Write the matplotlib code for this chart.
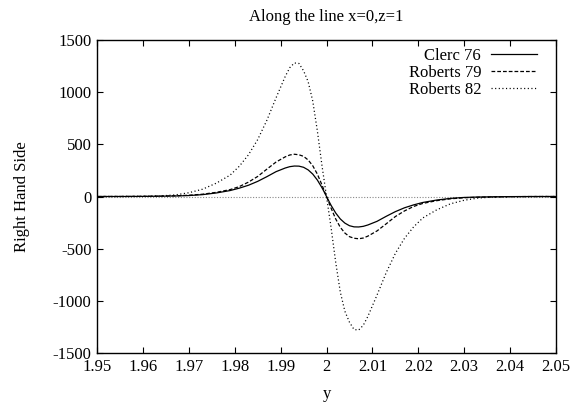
import numpy as np
import matplotlib
matplotlib.use("Agg")
import matplotlib.pyplot as plt

plt.rcParams["font.family"] = ["Liberation Serif", "DejaVu Serif"]
plt.rcParams["axes.unicode_minus"] = False

# values (left half; right half is the mirrored trough)
Y_LEFT = [1.95, 1.955, 1.96, 1.964, 1.967, 1.970, 1.973, 1.976, 1.979, 1.981,
          1.983, 1.985, 1.987, 1.989, 1.991, 1.992, 1.993, 1.994, 1.995, 1.996,
          1.997, 1.998, 1.999, 1.9995, 2.0]
CLERC_76 = [0, 0.2, 1, 3, 5, 9, 18, 34, 57, 80, 108, 145, 190, 238, 273, 286,
            292, 291, 280, 255, 215, 158, 85, 43, 0]
ROBERTS_79 = [0, 0.3, 1.5, 4, 7, 12, 22, 40, 66, 95, 138, 192, 262, 330, 380,
              398, 405, 400, 385, 350, 295, 215, 112, 56, 0]
ROBERTS_82 = [0, 0.5, 2, 6, 15, 36, 70, 128, 205, 290, 400, 545, 730, 945,
              1150, 1235, 1280, 1275, 1205, 1100, 915, 630, 300, 150, 0]


def full(vals):
    v = np.array(vals, dtype=float)
    return np.concatenate([v, -v[::-1][1:]])


y_all = np.concatenate([np.array(Y_LEFT), 4.0 - np.array(Y_LEFT)[::-1][1:]])

fig = plt.figure(figsize=(5.75, 4.09), dpi=100)
ax = fig.add_axes([0.1687, 0.1369, 0.7983, 0.7653])

ax.axhline(0, color="#888888", lw=0.8, ls=(0, (1, 1.5)), zorder=1)
ax.plot(y_all, full(CLERC_76), color="black", lw=0.9, label="Clerc 76")
ax.plot(y_all, full(ROBERTS_79), color="black", lw=0.9, ls=(0, (3, 1.6)), label="Roberts 79")
ax.plot(y_all, full(ROBERTS_82), color="black", lw=0.9, ls=(0, (0.9, 2)), label="Roberts 82")

ax.set_xlim(1.95, 2.05)
ax.set_ylim(-1500, 1500)
ax.set_xticks(np.arange(1.95, 2.0501, 0.01))
ax.set_xticklabels(["1.95", "1.96", "1.97", "1.98", "1.99", "2", "2.01",
                    "2.02", "2.03", "2.04", "2.05"])
ax.set_yticks(np.arange(-1500, 1501, 500))
ax.tick_params(direction="in", length=4, width=0.8, top=True, right=True,
               labelsize=12, pad=4)
for s in ax.spines.values():
    s.set_linewidth(1.0)

ax.set_title("Along the line x=0,z=1", fontsize=12, pad=14)
ax.set_xlabel("y", fontsize=12, labelpad=8)
ax.set_ylabel("Right Hand Side", fontsize=12, labelpad=16)

ax.legend(loc="upper right", bbox_to_anchor=(1 - 19 / 459, 1 - 8 / 313),
          frameon=False, markerfirst=False, fontsize=12, borderaxespad=0,
          borderpad=0, handlelength=2.75, labelspacing=0.05, handletextpad=0.6)

fig.savefig("out.png", dpi=100)
